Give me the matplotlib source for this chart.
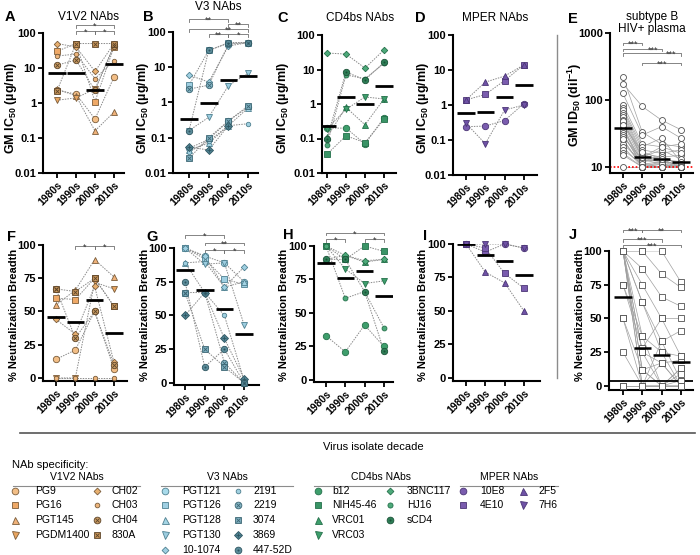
import numpy as np
import matplotlib
matplotlib.use('Agg')
import matplotlib.pyplot as plt
import matplotlib.transforms as mtransforms

plt.rcParams['font.family'] = ['Liberation Sans', 'DejaVu Sans']
plt.rcParams['mathtext.fontset'] = 'custom'
plt.rcParams['mathtext.rm'] = 'Liberation Sans'
plt.rcParams['mathtext.bf'] = 'Liberation Sans:bold'
plt.rcParams['mathtext.default'] = 'bf'

W, H = 700, 555
nan = np.nan
decades = ['1980s', '1990s', '2000s', '2010s']

# ---- GM IC50 (ug/ml) per NAb, by virus decade ----
v1v2_ic50 = {
    'PG9': [2.3, 1.8, 0.35, 5.5],
    'PG16': [30, 50, 1.1, 40],
    'PGT145': [2.5, 1.6, 0.16, 0.55],
    'PGDM1400': [1.2, 1.4, 2.5, 45],
    'CH02': [50, 40, 8, 50],
    'CH03': [22, 25, 5, 16],
    'CH04': [12, 17, 2.3, 42],
    '830A': [2.2, 50, 50, 50],
}
v1v2_ic50_gm = [7.0, 7.0, 2.3, 13]

v3_ic50 = {
    'PGT121': [0.05, 0.09, 0.3, 0.75],
    'PGT126': [3.1, 30, 50, 50],
    'PGT128': [0.045, 0.07, 0.22, 0.7],
    'PGT130': [0.16, 0.38, 3.0, 6.8],
    '10-1074': [6.0, 3.8, 40, 50],
    '2191': [0.04, 0.08, 0.22, 0.25],
    '2219': [2.4, 3.1, 45, 50],
    '3074': [0.026, 0.1, 0.3, 0.8],
    '3869': [0.054, 0.045, 0.22, nan],
    '447-52D': [0.16, 30, 48, 50],
}
v3_ic50_gm = [0.34, 0.95, 4.4, 5.8]

cd4bs_ic50 = {
    'b12': [0.2, 0.2, 0.07, 0.4],
    'NIH45-46': [0.035, 0.12, 0.076, 0.36],
    'VRC01': [0.11, 0.8, 0.25, 1.4],
    'VRC03': [0.19, 0.7, 1.6, 1.4],
    '3BNC117': [30, 28, 11, 37],
    'HJ16': [0.065, 7.0, 5.4, 15],
    'sCD4': [0.1, 8.5, 5.0, 16],
}
cd4bs_ic50_gm = [0.23, 1.6, 1.0, 3.3]

mper_ic50 = {
    '10E8': [0.24, 0.25, 0.36, 1.1],
    '4E10': [1.4, 2.0, 5.0, 14],
    '2F5': [1.4, 4.5, 6.7, 14],
    '7H6': [0.3, 0.078, 0.72, 1.0],
}
mper_ic50_gm = [0.6, 0.65, 1.65, 3.7]

# ---- % neutralization breadth per NAb ----
v1v2_breadth = {
    'PG9': [14, 21, 50, 7],
    'PG16': [60, 59, 75, 54],
    'PGT145': [55, 66, 89, 76],
    'PGDM1400': [0, 0, 72, 67],
    'CH02': [44, 33, 69, 12],
    'CH03': [0, 0, 0, 0],
    'CH04': [67, 30, 50, 10],
    '830A': [67, 65, 75, 54],
}
v1v2_breadth_gm = [46, 42, 59, 34]

v3_breadth = {
    'PGT121': [100, 94, 89, 75],
    'PGT126': [100, 92, 77, 73],
    'PGT128': [89, 90, 71, 75],
    'PGT130': [100, 88, 89, 43],
    '10-1074': [100, 94, 71, 86],
    '2191': [89, 67, 50, 2],
    '2219': [67, 67, 15, 0],
    '3074': [67, 25, 12, 0],
    '3869': [50, 67, 33, 3],
    '447-52D': [75, 12, 25, 0],
}
v3_breadth_gm = [84, 69, 55, 36]

cd4bs_breadth = {
    'b12': [33, 21, 41, 25],
    'NIH45-46': [100, 90, 100, 96],
    'VRC01': [90, 93, 88, 90],
    'VRC03': [100, 83, 72, 74],
    '3BNC117': [100, 93, 89, 90],
    'HJ16': [100, 61, 66, 39],
    'sCD4': [90, 90, 66, 22],
}
cd4bs_breadth_gm = [87, 76, 81, 63]

mper_breadth = {
    '10E8': [100, 94, 100, 97],
    '4E10': [100, 97, 78, 67],
    '2F5': [100, 79, 71, 50],
    '7H6': [100, 100, 100, 97],
}
mper_breadth_gm = [100, 92, 87, 77]

# ---- subtype B HIV+ plasma: ID50 and breadth per subject ----
plasma_id50 = [
    [220, 33, 22, 20], [175, 80, 50, 36], [125, 30, 40, 27], [85, 22, 20, 22],
    [75, 20, 27, 12], [70, 18, 16, 18], [65, 16, 14, 15], [60, 15, 13, 12],
    [55, 14, 18, 13], [50, 13, 12, 11], [45, 12, 15, 10], [40, 11, 11, 10],
    [38, 10, 10, 12], [35, 12, 13, 10], [32, 10, 12, 11], [30, 11, 10, 10],
    [28, 13, 11, 10], [25, 10, 10, 10], [22, 12, 14, 11], [20, 10, 10, 10],
    [18, 11, 12, 10], [16, 10, 10, 10], [15, 10, 11, 10], [10, 10, 10, 10],
    [48, 14, 20, 16], [42, 17, 13, 10], [26, 10, 10, 10],
]
plasma_id50_gm = [38, 14, 13, 12]

plasma_breadth = [
    [100, 100, 100, 77], [100, 100, 83, 73], [100, 87, 66, 59], [100, 75, 50, 50],
    [100, 62, 33, 41], [100, 37, 25, 22], [100, 25, 17, 19], [100, 12, 0, 13],
    [75, 28, 50, 22], [50, 0, 0, 9], [25, 0, 33, 4], [0, 0, 0, 0],
    [100, 12, 0, 0], [100, 0, 17, 0], [75, 37, 0, 13], [100, 62, 25, 0],
    [0, 0, 0, 0], [100, 25, 0, 4], [50, 12, 17, 0], [100, 0, 0, 0],
]
plasma_breadth_gm = [66, 28, 23, 18]

# marker, size, face, edge, overlay
STYLE = {
    'PG9': ('o', 4.6, '#F2BE86', '#7A5C3A', None),
    'PG16': ('s', 4.3, '#EFA967', '#7A5C3A', None),
    'PGT145': ('^', 4.8, '#F0B27A', '#7A5C3A', None),
    'PGDM1400': ('v', 4.8, '#E9A560', '#7A5C3A', None),
    'CH02': ('D', 3.3, '#E8B070', '#7A5C3A', None),
    'CH03': ('o', 3.2, '#EDB57C', '#7A5C3A', None),
    'CH04': ('o', 4.6, '#C99A62', '#5E462A', 'x'),
    '830A': ('s', 4.3, '#C8955A', '#5E462A', 'x'),
    'PGT121': ('o', 4.6, '#A8DAEA', '#4F8090', None),
    'PGT126': ('s', 4.3, '#9FCFE2', '#4F8090', None),
    'PGT128': ('^', 4.8, '#A5D5E5', '#4F8090', None),
    'PGT130': ('v', 4.8, '#9CCDE0', '#4F8090', None),
    '10-1074': ('D', 3.3, '#9FD0E2', '#4F8090', None),
    '2191': ('o', 3.2, '#A0D0E0', '#4F8090', None),
    '2219': ('o', 4.6, '#86B6C6', '#3C6673', 'x'),
    '3074': ('s', 4.3, '#7FAFC0', '#3C6673', 'x'),
    '3869': ('D', 4.0, '#4F8292', '#2E5560', '+'),
    '447-52D': ('o', 4.6, '#5B8C9A', '#2E5560', '.'),
    'b12': ('o', 4.6, '#3E9E6C', '#24704A', None),
    'NIH45-46': ('s', 4.3, '#3A9466', '#24704A', None),
    'VRC01': ('^', 4.8, '#3E9E6C', '#24704A', None),
    'VRC03': ('v', 4.8, '#3E9E6C', '#24704A', None),
    '3BNC117': ('D', 3.3, '#4DAA7A', '#24704A', None),
    'HJ16': ('o', 3.5, '#4DAA7A', '#24704A', None),
    'sCD4': ('o', 4.6, '#2E7E56', '#1B5238', '.'),
    '10E8': ('o', 4.6, '#7A5CAE', '#4B3575', None),
    '4E10': ('s', 4.3, '#7A5CAE', '#4B3575', None),
    '2F5': ('^', 4.8, '#6F52A6', '#4B3575', None),
    '7H6': ('v', 4.8, '#6F52A6', '#4B3575', None),
}

fig = plt.figure(figsize=(W / 100, H / 100), dpi=100)

# overlay axes in pixel coordinates for separators and legend
lay = fig.add_axes([0, 0, 1, 1])
lay.set_xlim(0, W)
lay.set_ylim(H, 0)
lay.axis('off')


def marker(ax, x, y, name, scale=1.0, **kw):
    m, ms, fc, ec, ov = STYLE[name]
    ax.plot(x, y, ls='none', marker=m, ms=ms * scale, mfc=fc, mec=ec, mew=0.6, zorder=3, **kw)
    if ov is not None:
        ax.plot(x, y, ls='none', marker=ov, ms=ms * scale * (0.35 if ov == '.' else 0.6),
                mfc=ec, mec=ec, mew=0.6, zorder=3.5, **kw)


def add_ax(left, right, top, bottom, first, step, log, ylim, ticks, labels):
    ax = fig.add_axes([left / W, 1 - bottom / H, (right - left) / W, (bottom - top) / H])
    ax.set_xlim((left - first) / step, (right - first) / step)
    if log:
        ax.set_yscale('log')
    ax.set_ylim(*ylim)
    ax.set_yticks(ticks)
    ax.set_yticklabels(labels)
    ax.minorticks_off()
    ax.set_xticks(range(4))
    ax.set_xticklabels(decades, rotation=45, ha='right', rotation_mode='anchor')
    ax.patch.set_alpha(0)
    for s in ('top', 'right'):
        ax.spines[s].set_visible(False)
    for s in ('left', 'bottom'):
        ax.spines[s].set_linewidth(1.5)
    ax.tick_params(width=1.3, length=3.5, pad=1.5)
    for t in ax.get_yticklabels():
        t.set_fontsize(8)
        t.set_fontweight('bold')
    for t in ax.get_xticklabels():
        t.set_fontsize(7.5)
        t.set_fontweight('bold')
    return ax


def nab_panel(ax, data, gm):
    x = np.arange(4)
    for name, vals in data.items():
        ax.plot(x, vals, ls=(0, (1.5, 1.2)), color='#8a8a8a', lw=0.7, zorder=1)
    for name, vals in data.items():
        marker(ax, x, vals, name, clip_on=False)
    ax.hlines(gm, x - 0.45, x + 0.45, color='black', lw=2.0, zorder=4)


def plasma_panel(ax, rows, gm, mk):
    x = np.arange(4)
    for r in rows:
        ax.plot(x, r, color='#a0a0a0', lw=0.5, zorder=1)
    for r in rows:
        ax.plot(x, r, ls='none', marker=mk, ms=4.3 if mk == 'o' else 4.0, mfc='white',
                mec='#505050', mew=0.6, zorder=3, clip_on=False)
    ax.hlines(gm, x - 0.45, x + 0.45, color='black', lw=1.8, zorder=4)


def bracket(ax, i0, i1, ypx, label, lx=None):
    tr = mtransforms.blended_transform_factory(ax.transData, fig.transFigure)
    y = 1 - ypx / H
    d = 2.5 / H
    ax.plot([i0, i0, i1, i1], [y - d, y, y, y - d], transform=tr, color='#707070',
            lw=0.6, clip_on=False)
    ax.text((i0 + i1) / 2 if lx is None else lx, y - 3.5 / H, label, transform=tr,
            ha='center', va='baseline', fontsize=6.5, color='#333333')


log_ticks = [0.01, 0.1, 1, 10, 100]
log_labels = ['0.01', '0.1', '1', '10', '100']
pct_ticks = [0, 25, 50, 75, 100]
pct_labels = ['0', '25', '50', '75', '100']

axA = add_ax(43, 124, 33, 173, 57, 19.0, True, (0.01, 100), log_ticks, log_labels)
nab_panel(axA, v1v2_ic50, v1v2_ic50_gm)
axB = add_ax(173, 258, 32, 173, 189, 19.7, True, (0.01, 100), log_ticks, log_labels)
nab_panel(axB, v3_ic50, v3_ic50_gm)
axC = add_ax(322, 396, 35, 173, 327, 19.0, True, (0.01, 100), log_ticks, log_labels)
nab_panel(axC, cd4bs_ic50, cd4bs_ic50_gm)
axD = add_ax(453, 537, 35, 175, 466, 19.3, True, (0.01, 100), log_ticks, log_labels)
nab_panel(axD, mper_ic50, mper_ic50_gm)
axE = add_ax(610, 693, 33, 173, 623, 19.3, True, (8.13, 1000), [10, 100, 1000], ['10', '100', '1000'])
axE.axhline(10, color='red', ls=(0, (1, 1.2)), lw=1.2, zorder=2)
plasma_panel(axE, plasma_id50, plasma_id50_gm, 'o')

axF = add_ax(43, 127, 245, 381, 56, 19.3, False, (-2.3, 100), pct_ticks, pct_labels)
nab_panel(axF, v1v2_breadth, v1v2_breadth_gm)
axG = add_ax(174, 259, 248, 385, 185, 19.7, False, (-1.5, 100), pct_ticks, pct_labels)
nab_panel(axG, v3_breadth, v3_breadth_gm)
axH = add_ax(314, 393, 246, 382, 326, 19.3, False, (-1.5, 100), pct_ticks, pct_labels)
nab_panel(axH, cd4bs_breadth, cd4bs_breadth_gm)
axI = add_ax(453, 540, 244, 381, 466, 19.3, False, (-2.3, 100), pct_ticks, pct_labels)
nab_panel(axI, mper_breadth, mper_breadth_gm)
axJ = add_ax(609, 693, 251, 390, 623, 19.3, False, (-3, 100), pct_ticks, pct_labels)
axJ.axhline(3.7, color='black', lw=1.3, zorder=2)
plasma_panel(axJ, plasma_breadth, plasma_breadth_gm, 's')

# significance brackets
bracket(axA, 1, 3, 25, '*')
bracket(axA, 1, 2, 31, '*')
bracket(axA, 2, 3, 31, '*')
bracket(axB, 0, 2, 19, '**')
bracket(axB, 2, 3, 24, '**')
bracket(axB, 0, 3, 29, '**', lx=2.0)
bracket(axB, 1, 2, 34, '**')
bracket(axB, 2, 3, 34, '*')
bracket(axE, 0, 1, 43, '***')
bracket(axE, 0, 2, 49, '***', lx=1.55)
bracket(axE, 0, 3, 53, '***', lx=2.5)
bracket(axE, 1, 3, 63, '***')
bracket(axF, 1, 2, 246, '*')
bracket(axF, 2, 3, 246, '*')
bracket(axG, 0, 2, 235, '*')
bracket(axG, 1, 3, 243, '**')
bracket(axG, 1, 2, 250, '*')
bracket(axG, 2, 3, 250, '*')
bracket(axH, 0, 3, 233, '*')
bracket(axH, 0, 1, 239, '*')
bracket(axH, 2, 3, 239, '*')
bracket(axJ, 0, 1, 230, '***')
bracket(axJ, 1, 3, 230, '**')
bracket(axJ, 0, 2, 239, '***')
bracket(axJ, 0, 3, 245, '***')


def ftext(x, y, s, **kw):
    fig.text(x / W, 1 - y / H, s, **kw)


# panel letters, titles, y labels
for letter, (lx, ly) in zip('ABCDEFGHIJ', [(10, 17), (148, 17), (283, 18), (420, 18), (573, 19),
                                          (12, 237), (152, 237), (288, 235), (425, 236), (573, 235)]):
    ftext(lx, ly, letter, ha='center', va='center', fontsize=10.5, fontweight='bold')
for title, tx, ty in [('V1V2 NAbs', 88, 17), ('V3 NAbs', 218, 7), ('CD4bs NAbs', 360, 18),
                      ('MPER NAbs', 495, 18)]:
    ftext(tx, ty, title, ha='center', va='center', fontsize=8.5)
ftext(652, 23, 'subtype B\nHIV+ plasma', ha='center', va='center', fontsize=8.5, linespacing=1.1)

ic50_label = 'GM IC$_{50}$ (µg/ml)'
for yx in (11, 143, 283, 423):
    ftext(yx, 108, ic50_label, rotation=90, ha='center', va='center', fontsize=9, fontweight='bold')
ftext(575, 105, 'GM ID$_{50}$ (dil$^{-1}$)', rotation=90, ha='center', va='center',
      fontsize=9, fontweight='bold')
for yx in (14, 145, 284, 423, 580):
    ftext(yx, 315, '% Neutralization Breadth', rotation=90, ha='center', va='center',
          fontsize=8, fontweight='bold')

# separators
lay.plot([557, 557], [35, 378], color='#8c8c8c', lw=1.0)
lay.plot([20, 695], [433, 433], color='#555555', lw=1.2)
ftext(373, 447, 'Virus isolate decade', ha='center', va='center', fontsize=8)

# legend
ftext(12, 465, 'NAb specificity:', ha='left', va='center', fontsize=8)
rows_y = [491, 505, 520, 535, 550]
legend_groups = [
    ('V1V2 NAbs', 13, 140, [(15, 35, ['PG9', 'PG16', 'PGT145', 'PGDM1400']),
                            (97, 112, ['CH02', 'CH03', 'CH04', '830A'])]),
    ('V3 NAbs', 161, 293, [(165, 182, ['PGT121', 'PGT126', 'PGT128', 'PGT130', '10-1074']),
                           (238, 253, ['2191', '2219', '3074', '3869', '447-52D'])]),
    ('CD4bs NAbs', 314, 448, [(318, 332, ['b12', 'NIH45-46', 'VRC01', 'VRC03']),
                              (390, 407, ['3BNC117', 'HJ16', 'sCD4'])]),
    ('MPER NAbs', 460, 558, [(463, 480, ['10E8', '4E10']),
                             (523, 538, ['2F5', '7H6'])]),
]
for header, x0, x1, cols in legend_groups:
    ftext((x0 + x1) / 2, 477, header, ha='center', va='center', fontsize=7.5)
    lay.plot([x0, x1], [485.5, 485.5], color='#8c8c8c', lw=0.8)
    for mx, tx, names in cols:
        for name, ry in zip(names, rows_y):
            marker(lay, [mx], [ry], name, scale=1.05)
            ftext(tx, ry, name, ha='left', va='center', fontsize=7.5)

fig.savefig('out.png', dpi=100)
